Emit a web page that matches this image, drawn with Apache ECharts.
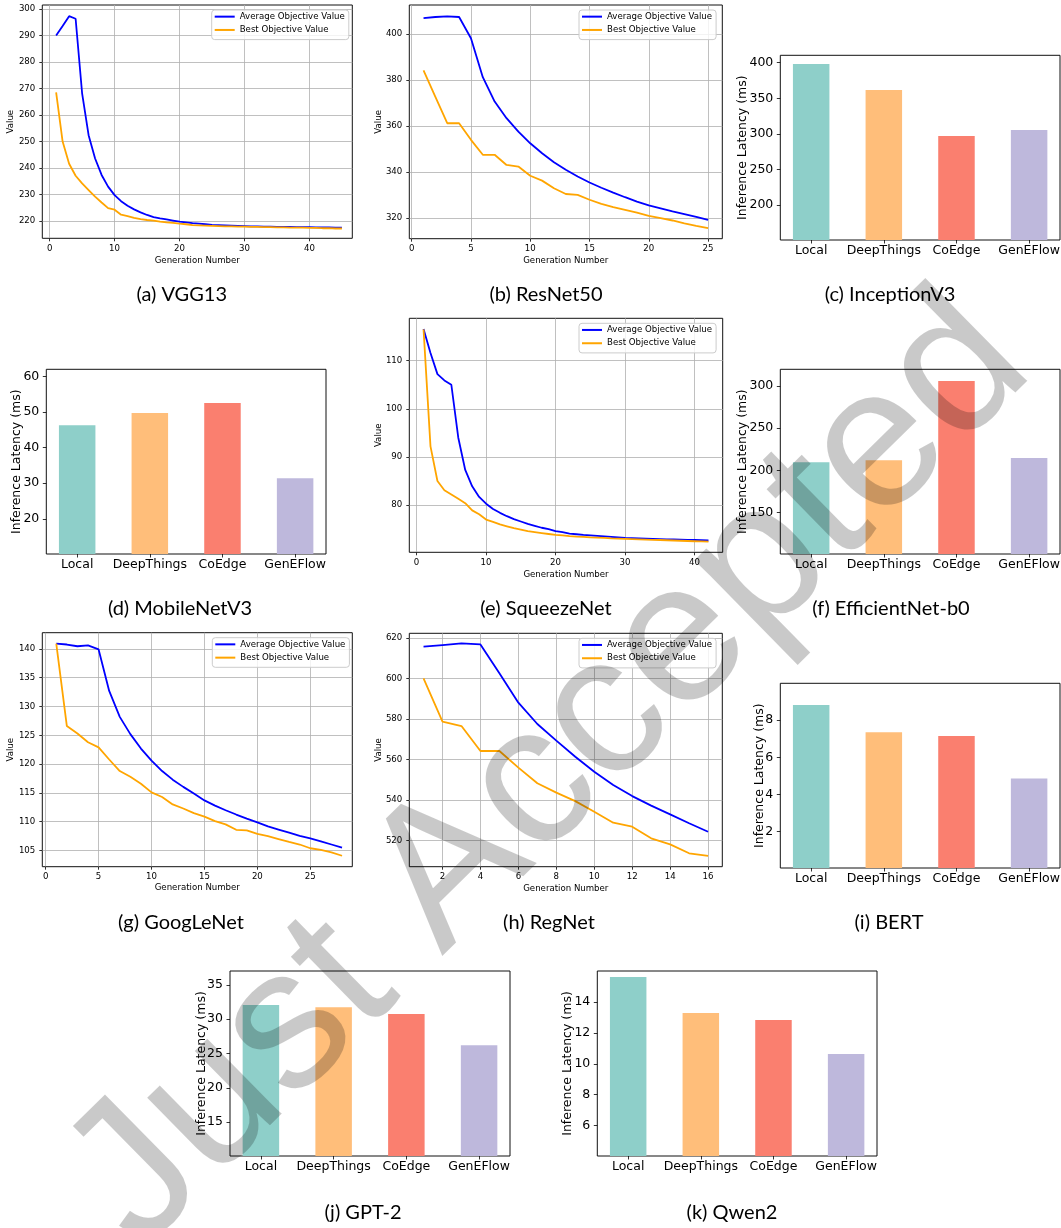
<!DOCTYPE html>
<html><head><meta charset="utf-8">
<script src="https://cdn.jsdelivr.net/npm/echarts@6/dist/echarts.min.js"></script>
<style>html,body{margin:0;padding:0;background:#fff}#c{width:1061px;height:1228px}</style>
</head><body><div id="c"></div>
<script>
// ---------- data ----------
const categories = ['Local', 'DeepThings', 'CoEdge', 'GenEFlow'];
const barColors = ['#8ECFC9', '#FFBE7A', '#FA7F6F', '#BEB8DC'];
const legendNames = ['Average Objective Value', 'Best Objective Value'];

const vggAvg = [290.0, 293.6, 297.3, 296.3, 268.2, 252.4, 243.6, 237.4, 233.0, 229.8, 227.5, 225.8, 224.4, 223.3, 222.3, 221.5, 221.0, 220.6, 220.2, 219.8, 219.5, 219.2, 219.0, 218.8, 218.6, 218.5, 218.4, 218.3, 218.2, 218.1, 218.0, 218.0, 217.9, 217.9, 217.8, 217.8, 217.8, 217.7, 217.7, 217.7, 217.6, 217.6, 217.6, 217.5, 217.5];
const vggBest = [268.5, 250.0, 241.6, 237.1, 234.2, 231.7, 229.2, 227.0, 224.9, 224.3, 222.4, 221.9, 221.2, 220.7, 220.4, 220.2, 219.8, 219.5, 219.3, 219.0, 218.8, 218.5, 218.4, 218.3, 218.2, 218.1, 218.0, 218.0, 217.9, 217.9, 217.8, 217.8, 217.7, 217.7, 217.6, 217.6, 217.5, 217.5, 217.5, 217.4, 217.4, 217.3, 217.3, 217.2, 217.2];

const resAvg = [406.8, 407.3, 407.6, 407.3, 398.1, 381.2, 370.6, 363.4, 357.6, 352.5, 348.2, 344.3, 341.0, 338.1, 335.5, 333.2, 331.1, 329.1, 327.2, 325.6, 324.3, 323.0, 321.8, 320.6, 319.3];
const resBest = [384.1, 372.6, 361.2, 361.2, 354.0, 347.5, 347.5, 343.1, 342.4, 338.4, 336.3, 333.0, 330.5, 330.1, 328.0, 326.2, 324.8, 323.6, 322.4, 321.0, 320.0, 319.0, 317.8, 316.7, 315.7];

const sqzAvg = [116.6, 111.6, 107.2, 105.9, 105.0, 94.0, 87.3, 83.9, 81.7, 80.3, 79.2, 78.4, 77.7, 77.1, 76.6, 76.1, 75.7, 75.3, 75.0, 74.6, 74.4, 74.1, 73.95, 73.8, 73.7, 73.6, 73.5, 73.4, 73.3, 73.2, 73.15, 73.1, 73.05, 73.0, 72.95, 72.9, 72.9, 72.85, 72.8, 72.75, 72.7, 72.65];
const sqzBest = [116.5, 92.2, 85.0, 83.1, 82.2, 81.3, 80.4, 78.9, 78.1, 77.0, 76.5, 76.0, 75.6, 75.2, 74.9, 74.6, 74.4, 74.2, 74.0, 73.8, 73.7, 73.55, 73.45, 73.4, 73.3, 73.25, 73.2, 73.1, 73.05, 73.0, 72.95, 72.9, 72.85, 72.8, 72.75, 72.7, 72.65, 72.6, 72.55, 72.5, 72.45, 72.4];

const gooAvg = [140.9, 140.75, 140.45, 140.6, 139.9, 132.7, 128.2, 125.2, 122.7, 120.6, 118.8, 117.3, 116.05, 114.9, 113.7, 112.8, 112.0, 111.25, 110.55, 109.9, 109.2, 108.65, 108.1, 107.55, 107.1, 106.6, 106.05, 105.5];
const gooBest = [140.9, 126.6, 125.3, 123.8, 122.9, 120.8, 118.8, 117.8, 116.6, 115.1, 114.3, 113.0, 112.3, 111.5, 110.9, 110.1, 109.55, 108.6, 108.5, 107.9, 107.5, 107.0, 106.5, 106.05, 105.4, 105.1, 104.7, 104.1];

const regAvg = [615.6, 616.4, 617.2, 616.7, 602.5, 588.0, 577.5, 569.3, 561.4, 554.0, 547.5, 542.0, 537.3, 533.0, 528.6, 524.4];
const regBest = [600.0, 578.7, 576.5, 564.2, 564.2, 556.0, 548.3, 543.7, 539.5, 534.3, 528.9, 526.9, 521.2, 518.2, 513.8, 512.5];

const inceptionLat = [398.1, 361.6, 297.0, 305.4];
const mobileLat = [46.3, 49.7, 52.5, 31.4];
const efficientLat = [209.6, 212.0, 305.9, 214.7];
const bertLat = [8.81, 7.35, 7.14, 4.86];
const gpt2Lat = [32.08, 31.74, 30.77, 26.2];
const qwenLat = [15.62, 13.29, 12.84, 10.64];

const vggXTicks = [0, 10, 20, 30, 40], vggYTicks = [220, 230, 240, 250, 260, 270, 280, 290, 300];
const resXTicks = [0, 5, 10, 15, 20, 25], resYTicks = [320, 340, 360, 380, 400];
const sqzXTicks = [0, 10, 20, 30, 40], sqzYTicks = [80, 90, 100, 110];
const gooXTicks = [0, 5, 10, 15, 20, 25], gooYTicks = [105, 110, 115, 120, 125, 130, 135, 140];
const regXTicks = [2, 4, 6, 8, 10, 12, 14, 16], regYTicks = [520, 540, 560, 580, 600, 620];
const inceptionYTicks = [200, 250, 300, 350, 400];
const mobileYTicks = [20, 30, 40, 50, 60];
const efficientYTicks = [150, 200, 250, 300];
const bertYTicks = [2, 4, 6, 8];
const gpt2YTicks = [15, 20, 25, 30, 35];
const qwenYTicks = [6, 8, 10, 12, 14];

const captions = ['(a) VGG13', '(b) ResNet50', '(c) InceptionV3', '(d) MobileNetV3', '(e) SqueezeNet', '(f) EfficientNet-b0', '(g) GoogLeNet', '(h) RegNet', '(i) BERT', '(j) GPT-2', '(k) Qwen2'];
const watermarkText = 'Just Accepted';

// ---------- builders ----------
const LF = 'DejaVu Sans';
const grids = [], xAxes = [], yAxes = [], series = [], legends = [], graphics = [];
const tickLine = {color: '#000', width: 0.8};
const noLine = {show: false, onZero: false};

function addGrid(r) {
  grids.push({left: r[0], top: r[1], width: r[2], height: r[3], show: true, borderColor: '#111', borderWidth: 1,
    backgroundColor: 'transparent', containLabel: false, outerBoundsMode: 'none'});
  return grids.length - 1;
}

function addLine(o) {
  const gi = addGrid(o.rect);
  const fs = 8.6;
  xAxes.push({type: 'value', gridIndex: gi, min: o.xr[0], max: o.xr[1],
    name: 'Generation Number', nameLocation: 'middle', nameGap: o.xGap, nameMoveOverlap: false,
    nameTextStyle: {fontFamily: LF, fontSize: fs, color: '#000'},
    axisLine: noLine,
    axisTick: {show: true, inside: false, length: 3, lineStyle: tickLine, customValues: o.xt},
    axisLabel: {customValues: o.xt, fontFamily: LF, fontSize: fs, color: '#000', margin: 5.5},
    splitLine: {show: true, lineStyle: {color: '#b0b0b0', width: 0.8}}});
  yAxes.push({type: 'value', gridIndex: gi, min: o.yr[0], max: o.yr[1],
    name: 'Value', nameLocation: 'middle', nameGap: o.yGap, nameMoveOverlap: false,
    nameTextStyle: {fontFamily: LF, fontSize: fs, color: '#000'},
    axisLine: noLine,
    axisTick: {show: true, inside: false, length: 3, lineStyle: tickLine, customValues: o.yt},
    axisLabel: {customValues: o.yt, fontFamily: LF, fontSize: fs, color: '#000', margin: 7},
    splitLine: {show: true, lineStyle: {color: '#b0b0b0', width: 0.8}}});
  series.push({type: 'line', name: legendNames[0], xAxisIndex: gi, yAxisIndex: gi,
    data: o.avg.map((v, i) => [i + 1, v]), symbol: 'none', showSymbol: false, z: 3,
    lineStyle: {color: '#0000ff', width: 1.8}, itemStyle: {color: '#0000ff'}});
  series.push({type: 'line', name: legendNames[1], xAxisIndex: gi, yAxisIndex: gi,
    data: o.best.map((v, i) => [i + 1, v]), symbol: 'none', showSymbol: false, z: 4,
    lineStyle: {color: '#ffa500', width: 1.8}, itemStyle: {color: '#ffa500'}});
  legends.push({show: true, left: o.leg[0], top: o.leg[1], orient: 'vertical', data: legendNames.slice(),
    icon: 'rect', itemWidth: 20, itemHeight: 2, itemGap: 0, padding: [0, 4, 3, 3],
    backgroundColor: 'rgba(255,255,255,0.8)', borderColor: '#cccccc', borderWidth: 1, borderRadius: 3,
    selectedMode: false, textStyle: {fontFamily: LF, fontSize: fs, color: '#000', lineHeight: 13.3}});
}

function addBar(o) {
  const gi = addGrid(o.rect);
  const fs = 12.5;
  xAxes.push({type: 'value', gridIndex: gi, min: -0.425, max: 3.425,
    axisLine: noLine,
    axisTick: {show: true, inside: false, length: 3.5, lineStyle: tickLine, customValues: [0, 1, 2, 3]},
    axisLabel: {customValues: [0, 1, 2, 3], formatter: v => categories[Math.round(v)],
      fontFamily: LF, fontSize: fs, color: '#000', margin: 4},
    splitLine: {show: false}});
  yAxes.push({type: 'value', gridIndex: gi, min: o.yr[0], max: o.yr[1],
    name: 'Inference Latency (ms)', nameLocation: 'middle', nameGap: o.yGap, nameMoveOverlap: false,
    nameTextStyle: {fontFamily: LF, fontSize: fs, color: '#000'},
    axisLine: noLine,
    axisTick: {show: true, inside: false, length: 3.5, lineStyle: tickLine, customValues: o.yt},
    axisLabel: {customValues: o.yt, fontFamily: LF, fontSize: fs, color: '#000', margin: 7},
    splitLine: {show: false}});
  series.push({type: 'bar', xAxisIndex: gi, yAxisIndex: gi, barWidth: 36.5, clip: true,
    data: o.vals.map((v, i) => ({value: [i, v], itemStyle: {color: barColors[i]}}))});
}

// ---------- panels ----------
addLine({rect: [42.3, 5, 310, 233.3], xr: [-1.13, 46.6], xt: vggXTicks, yr: [213.5, 301.5], yt: vggYTicks,
  avg: vggAvg, best: vggBest, leg: [211.7, 10], xGap: 18, yGap: 26.7});
addLine({rect: [409.3, 5, 313, 233.7], xr: [-0.2, 26.2], xt: resXTicks, yr: [311.1, 412.5], yt: resYTicks,
  avg: resAvg, best: resBest, leg: [579, 10], xGap: 17.7, yGap: 26.2});
addBar({rect: [780.3, 55.3, 279.7, 184.7], yr: [150.8, 410.4], yt: inceptionYTicks, vals: inceptionLat, yGap: 30.7});

addBar({rect: [46.3, 369.3, 279.7, 184.7], yr: [10.1, 62], yt: mobileYTicks, vals: mobileLat, yGap: 22.7});
addLine({rect: [409.3, 318.3, 313.4, 234], xr: [-1.05, 44.05], xt: sqzXTicks, yr: [70.2, 118.8], yt: sqzYTicks,
  avg: sqzAvg, best: sqzBest, leg: [579, 323.3], xGap: 18.4, yGap: 26.2});
addBar({rect: [780.3, 369.3, 279.7, 184.7], yr: [101.1, 319.8], yt: efficientYTicks, vals: efficientLat, yGap: 30.7});

addLine({rect: [42.3, 632.7, 310, 234], xr: [-0.32, 28.97], xt: gooXTicks, yr: [102.2, 142.8], yt: gooYTicks,
  avg: gooAvg, best: gooBest, leg: [212.3, 637.7], xGap: 16.7, yGap: 26.7});
addLine({rect: [409.3, 633.3, 313, 233.4], xr: [0.25, 16.75], xt: regXTicks, yr: [507.2, 622.2], yt: regYTicks,
  avg: regAvg, best: regBest, leg: [579, 638.3], xGap: 17.3, yGap: 26.2});
addBar({rect: [780.3, 683.3, 279.7, 184.7], yr: [0.05, 9.98], yt: bertYTicks, vals: bertLat, yGap: 14});

addBar({rect: [230, 971, 280, 185], yr: [10.04, 37.04], yt: gpt2YTicks, vals: gpt2Lat, yGap: 22});
addBar({rect: [597.3, 971, 279.7, 185], yr: [4.04, 16.0], yt: qwenYTicks, vals: qwenLat, yGap: 22.7});

// ---------- captions ----------
const capPos = [[181.7, 295], [546, 295], [890, 295], [180, 609], [546, 609], [891, 609],
  [181, 923], [549, 923], [889, 923], [363, 1213], [732, 1213]];
captions.forEach((t, i) => {
  graphics.push({type: 'text', x: capPos[i][0], y: capPos[i][1], silent: true,
    style: {text: t, font: '20px Lato', fill: '#000', textAlign: 'center', textVerticalAlign: 'middle',
      align: 'center', verticalAlign: 'middle'}});
});
graphics.push({type: 'text', x: 102, y: 1213, rotation: 44.5 * Math.PI / 180, z: 100, silent: true,
  style: {text: watermarkText, font: '200px "Liberation Sans"', fill: 'rgba(0,0,0,0.21)',
    textAlign: 'left', textVerticalAlign: 'middle', align: 'left', verticalAlign: 'middle'}});

const chart = echarts.init(document.getElementById('c'), null, {renderer: 'canvas'});
chart.setOption({
  animation: false,
  backgroundColor: '#fff',
  grid: grids, xAxis: xAxes, yAxis: yAxes, series: series, legend: legends,
  graphic: {elements: graphics}
});
</script></body></html>
